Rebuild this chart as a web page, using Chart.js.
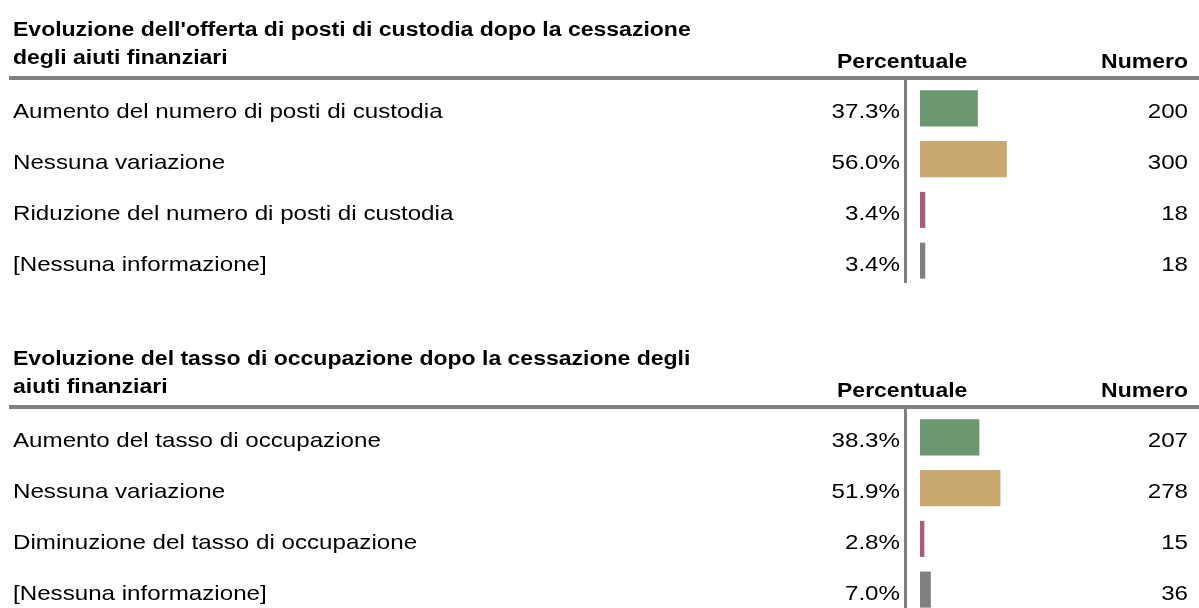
<!DOCTYPE html>
<html>
<head>
<meta charset="utf-8">
<script src="https://cdn.jsdelivr.net/npm/chart.js@4.4.1/dist/chart.umd.min.js"></script>
<style>
  html, body { margin: 0; padding: 0; background: #fff; }
  body { width: 1199px; height: 608px; overflow: hidden; position: relative; }
  .panel { position: absolute; left: 0; width: 1199px; height: 300px; }
</style>
</head>
<body>
<div class="panel" style="top:0px"><canvas id="offerChart" width="1199" height="300"></canvas></div>
<div class="panel" style="top:329px"><canvas id="occupancyChart" width="1199" height="300"></canvas></div>
<script>
const title1 = ["Evoluzione dell'offerta di posti di custodia dopo la cessazione", 'degli aiuti finanziari'];
const categories1 = ['Aumento del numero di posti di custodia', 'Nessuna variazione', 'Riduzione del numero di posti di custodia', '[Nessuna informazione]'];
const percent1 = [37.3, 56.0, 3.4, 3.4];
const count1 = [200, 300, 18, 18];

const title2 = ['Evoluzione del tasso di occupazione dopo la cessazione degli', 'aiuti finanziari'];
const categories2 = ['Aumento del tasso di occupazione', 'Nessuna variazione', 'Diminuzione del tasso di occupazione', '[Nessuna informazione]'];
const percent2 = [38.3, 51.9, 2.8, 7.0];
const count2 = [207, 278, 15, 36];

const headers = ['Percentuale', 'Numero'];
const barColors = ['#6b986e', '#c8a770', '#a85c75', '#808080'];

// the original text is a bit wider than plain Arial
const SX = 1.15;
const FONT = '"Liberation Sans", Arial, sans-serif';

function drawText(ctx, s, x, y, weight, size, align) {
    ctx.save();
    ctx.font = weight + ' ' + size + 'px ' + FONT;
    ctx.textAlign = align;
    ctx.textBaseline = 'alphabetic';
    ctx.fillStyle = '#000';
    ctx.translate(x, y);
    ctx.scale(SX, 1);
    ctx.fillText(s, 0, 0);
    ctx.restore();
}

function tablePlugin(title, percent, count) {
    return {
        id: 'table',
        beforeDatasetsDraw(chart) {
            const ctx = chart.ctx;
            const yScale = chart.scales.y;
            ctx.save();
            ctx.strokeStyle = '#808080';
            // header rule
            ctx.lineWidth = 4;
            ctx.beginPath();
            ctx.moveTo(9, 78);
            ctx.lineTo(1199, 78);
            ctx.stroke();
            // separator between the percent column and the bars
            ctx.lineWidth = 3;
            ctx.beginPath();
            ctx.moveTo(905.5, 78);
            ctx.lineTo(905.5, yScale.bottom - 3);
            ctx.stroke();
            ctx.restore();
        },
        afterDraw(chart) {
            const ctx = chart.ctx;
            const yScale = chart.scales.y;
            drawText(ctx, title[0], 13, 36, 'bold', 20, 'left');
            drawText(ctx, title[1], 13, 64, 'bold', 20, 'left');
            drawText(ctx, headers[0], 837, 68, 'bold', 20, 'left');
            drawText(ctx, headers[1], 1188, 68, 'bold', 20, 'right');
            chart.data.labels.forEach((label, i) => {
                const y = yScale.getPixelForValue(i) + 10;
                drawText(ctx, label, 13, y, 'normal', 21, 'left');
                drawText(ctx, percent[i].toFixed(1) + '%', 900, y, 'normal', 21, 'right');
                drawText(ctx, String(count[i]), 1188, y, 'normal', 21, 'right');
            });
        }
    };
}

function renderPanel(id, title, categories, percent, count) {
    const ctx = document.getElementById(id).getContext('2d');
    new Chart(ctx, {
        type: 'bar',
        data: {
            labels: categories,
            datasets: [{
                data: percent,
                backgroundColor: barColors,
                borderWidth: 0,
                categoryPercentage: 1,
                barPercentage: 0.71
            }]
        },
        options: {
            indexAxis: 'y',
            responsive: false,
            animation: false,
            layout: {
                padding: { left: 920, right: 124, top: 83, bottom: 14 }
            },
            plugins: {
                legend: { display: false },
                tooltip: { enabled: false },
                title: { display: false }
            },
            scales: {
                x: { display: false, min: 0, max: 100 },
                y: { display: false }
            }
        },
        plugins: [tablePlugin(title, percent, count)]
    });
}

renderPanel('offerChart', title1, categories1, percent1, count1);
renderPanel('occupancyChart', title2, categories2, percent2, count2);
</script>
</body>
</html>
